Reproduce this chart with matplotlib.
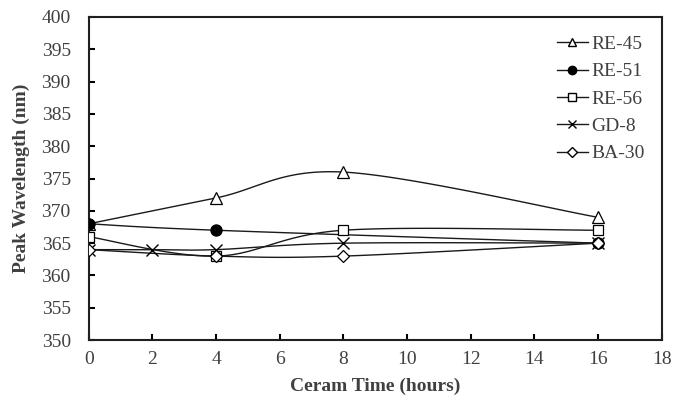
import numpy as np
import matplotlib
matplotlib.use('Agg')
from matplotlib import pyplot as plt

# Peak wavelength (nm) against ceram time (hours)
t_re45 = [0, 4, 8, 16]
re45 = [368, 372, 376, 369]
t_re51 = [0, 4, 16]
re51 = [368, 367, 365]
t_re56 = [0, 4, 8, 16]
re56 = [366, 363, 367, 367]
t_gd8 = [0, 2, 4, 8, 16]
gd8 = [364, 364, 364, 365, 365]
t_ba30 = [0, 4, 8, 16]
ba30 = [364, 363, 363, 365]

series_names = ['RE-45', 'RE-51', 'RE-56', 'GD-8', 'BA-30']

XMIN, XMAX, YMIN, YMAX = 0, 18, 350, 400


def smooth(x, y, n=40):
    # Bezier smoothing through every point (control points at +/- 1/6 of neighbour span)
    x = np.asarray(x, float)
    y = np.asarray(y, float)
    # work in normalised axis units so that the curve shape follows the plot aspect
    sx = (x - XMIN) / (XMAX - XMIN) * 5.72
    sy = (y - YMIN) / (YMAX - YMIN) * 3.23
    pts = np.column_stack([sx, sy])
    out = [pts[0]]
    for i in range(len(pts) - 1):
        p0 = pts[i - 1] if i > 0 else pts[i]
        p1 = pts[i]
        p2 = pts[i + 1]
        p3 = pts[i + 2] if i + 2 < len(pts) else pts[i + 1]
        c1 = p1 + (p2 - p0) / 6.0
        c2 = p2 - (p3 - p1) / 6.0
        s = np.linspace(0, 1, n)[1:, None]
        seg = ((1 - s) ** 3 * p1 + 3 * (1 - s) ** 2 * s * c1
               + 3 * (1 - s) * s ** 2 * c2 + s ** 3 * p2)
        out.extend(seg)
    out = np.array(out)
    xs = out[:, 0] / 5.72 * (XMAX - XMIN) + XMIN
    ys = out[:, 1] / 3.23 * (YMAX - YMIN) + YMIN
    return xs, ys


plt.rcParams['font.family'] = ['Liberation Serif', 'DejaVu Serif']

fig = plt.figure(figsize=(6.73, 4.03), dpi=100)
ax = fig.add_axes([0.132, 0.156, 0.851, 0.802])

line_c = '#1a1a1a'
styles = [
    (t_re45, re45, dict(marker='^', mfc='white', ms=8)),
    (t_re51, re51, dict(marker='o', mfc='black', ms=8)),
    (t_re56, re56, dict(marker='s', mfc='white', ms=7.5)),
    (t_gd8, gd8, dict(marker='x', mfc='white', ms=8, mew=1.0)),
    (t_ba30, ba30, dict(marker='D', mfc='white', ms=6.5)),
]

for (tx, vy, st), name in zip(styles, series_names):
    xs, ys = smooth(tx, vy)
    ax.plot(xs, ys, color=line_c, lw=1.0, zorder=2)
    ax.plot(tx, vy, ls='none', color='black', mec='black',
            mew=st.pop('mew', 0.9), zorder=3, **st)
    ax.plot([], [], color=line_c, lw=1.0, mec='black', label=name,
            marker=st['marker'], mfc=st['mfc'], ms=st['ms'] * 0.75)

ax.set_xlim(XMIN, XMAX)
ax.set_ylim(YMIN, YMAX)
ax.set_xticks(np.arange(0, 19, 2))
ax.set_yticks(np.arange(350, 401, 5))
ax.tick_params(direction='in', length=4, width=1.5, labelsize=14,
               labelcolor='#404040')
ax.tick_params(axis='x', pad=8)
ax.tick_params(axis='y', pad=13)
ax.tick_params(top=False, right=False)
for sp in ax.spines.values():
    sp.set_linewidth(1.5)
    sp.set_color('#202020')

ax.set_xlabel('Ceram Time (hours)', fontsize=14, fontweight='bold',
              color='#404040', labelpad=7)
ax.set_ylabel('Peak Wavelength (nm)', fontsize=14, fontweight='bold',
              color='#404040', labelpad=8)

leg = ax.legend(loc='upper right', bbox_to_anchor=(0.995, 0.985), frameon=False,
                fontsize=14, handlelength=1.6, handletextpad=0.2,
                labelspacing=0.5, borderaxespad=0.3)
for txt in leg.get_texts():
    txt.set_color('#404040')

fig.savefig('out.png', dpi=100)
